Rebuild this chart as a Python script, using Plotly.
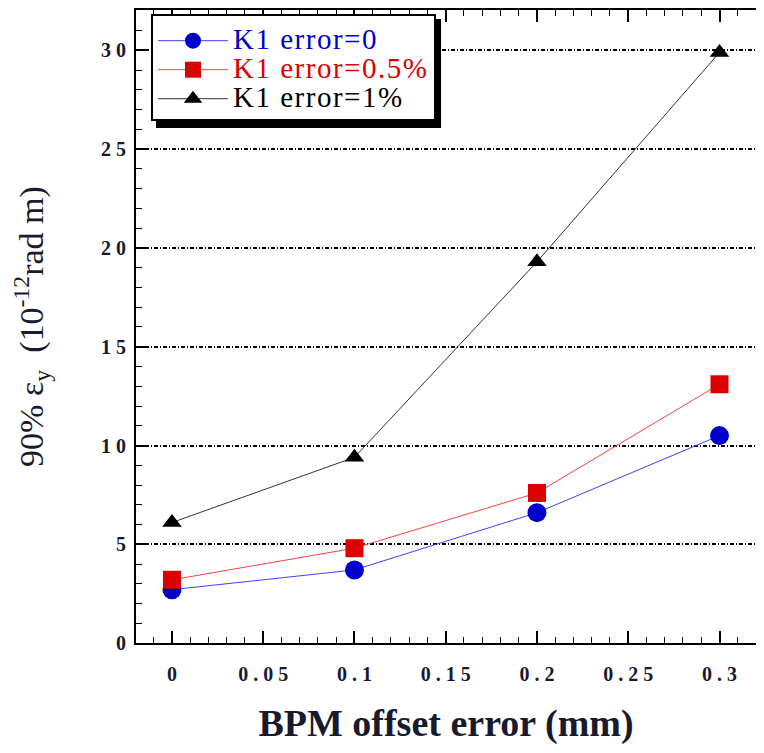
import plotly.graph_objects as go

x_vals = [0, 0.1, 0.2, 0.3]
k1_0 = [2.7, 3.7, 6.6, 10.5]
k1_05 = [3.2, 4.8, 7.6, 13.1]
k1_1 = [6.1, 9.4, 19.3, 29.9]

x_ticks = [0, 0.05, 0.1, 0.15, 0.2, 0.25, 0.3]
x_ticklabels = ["0", "0 . 0 5", "0 . 1", "0 . 1 5", "0 . 2", "0 . 2 5", "0 . 3"]
y_ticks = [0, 5, 10, 15, 20, 25, 30]
y_ticklabels = ["0", "5", "1 0", "1 5", "2 0", "2 5", "3 0"]

font_serif = "Liberation Serif"
txt_col = "#1a1a2e"
leg_style = "font-family:Liberation Serif;font-size:29px;letter-spacing:1.5px;color:"

fig = go.Figure()
fig.add_trace(go.Scatter(x=x_vals, y=k1_0, mode="lines+markers",
                         name=f"<span style='{leg_style}#0000cc'>K1 error=0</span>",
                         line=dict(color="#4040ff", width=1),
                         marker=dict(symbol="circle", size=19, color="#0000cc")))
fig.add_trace(go.Scatter(x=x_vals, y=k1_05, mode="lines+markers",
                         name=f"<span style='{leg_style}#dd0000'>K1 error=0.5%</span>",
                         line=dict(color="#ff4040", width=1),
                         marker=dict(symbol="square", size=18, color="#dd0000")))
fig.add_trace(go.Scatter(x=x_vals, y=k1_1, mode="lines+markers",
                         name=f"<span style='{leg_style}#000000'>K1 error=1%</span>",
                         line=dict(color="#333333", width=1),
                         marker=dict(symbol="triangle-up", size=17, color="#000000")))

# legend shadow (drawn beneath the legend box, offset down-right)
fig.add_shape(type="rect", xref="paper", yref="paper",
              x0=0.0323, x1=0.492, y0=0.8136, y1=0.9858,
              fillcolor="black", line=dict(width=0), layer="above")

fig.update_layout(
    width=748, height=737,
    margin=dict(l=128, r=0, t=2, b=102),
    paper_bgcolor="white", plot_bgcolor="white",
    font=dict(family=font_serif, color=txt_col),
    showlegend=True,
    legend=dict(x=0.0242, y=0.9937, xanchor="left", yanchor="top",
                bgcolor="white", bordercolor="black", borderwidth=2,
                font=dict(family=font_serif, size=20),
                title=dict(text=" ", font=dict(size=4)),
                itemwidth=70, tracegroupgap=0,
                entrywidth=231, entrywidthmode="pixels"),
    xaxis=dict(range=[-0.0197, 0.32], tickvals=x_ticks, ticktext=x_ticklabels,
               ticks="inside", ticklen=12, tickwidth=1.5, tickcolor="black",
               minor=dict(dtick=0.01, ticks="inside", ticklen=6, tickwidth=1, tickcolor="black"),
               showline=True, linecolor="black", linewidth=2, mirror="allticks",
               showgrid=False, zeroline=False, automargin=False,
               ticklabelstandoff=12,
               tickfont=dict(family=font_serif, size=20, color=txt_col, weight="bold"),
               title=dict(text="BPM offset error (mm)", standoff=48,
                          font=dict(family=font_serif, size=38, color=txt_col, weight="bold"))),
    yaxis=dict(range=[0, 32.05], tickvals=y_ticks, ticktext=y_ticklabels,
               ticks="inside", ticklen=9, tickwidth=1.5, tickcolor="black",
               minor=dict(dtick=1, ticks="inside", ticklen=6, tickwidth=1, tickcolor="black", showgrid=False),
               showline=True, linecolor="black", linewidth=2, mirror=False,
               showgrid=True, gridcolor="black", gridwidth=1.5, griddash="4px,2px,1px,2px",
               zeroline=False, automargin=False,
               ticklabelstandoff=4,
               tickfont=dict(family=font_serif, size=20, color=txt_col, weight="bold"),
               title=dict(text="90% ε<sub>y</sub>  (10<sup>-12</sup>rad m)", standoff=50,
                          font=dict(family=font_serif, size=34, color=txt_col))),
)

fig.write_html("out.html")
